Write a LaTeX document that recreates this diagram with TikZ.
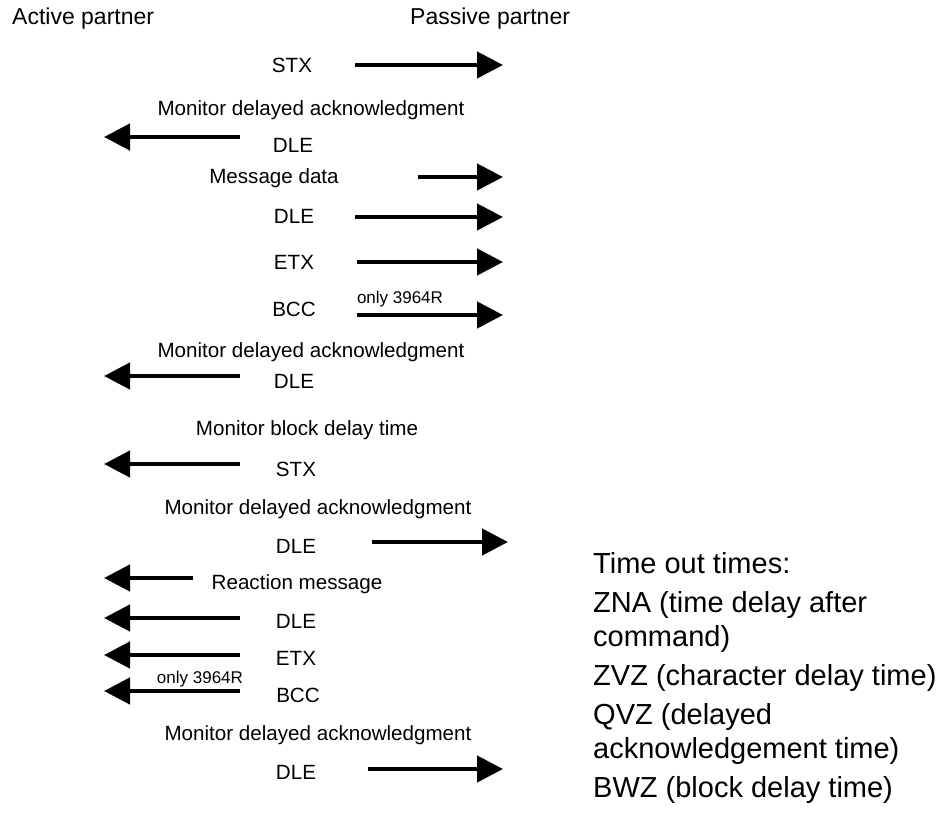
\documentclass[tikz,border=0pt]{standalone}
\usepackage{fontspec}
\setmainfont{Liberation Sans}
\usetikzlibrary{arrows.meta}
\begin{document}
\begin{tikzpicture}[x=1pt,y=-1pt,
  hdr/.style={font=\fontsize{23}{27}\selectfont, inner sep=0pt, text height=16.5pt, text depth=0pt, anchor=west},
  lbl/.style={font=\fontsize{20.6}{24}\selectfont, inner sep=0pt, text height=14.7pt, text depth=0pt},
  small/.style={font=\fontsize{17}{20}\selectfont, inner sep=0pt, text height=12.2pt, text depth=0pt},
  note/.style={font=\fontsize{29}{34}\selectfont, inner sep=0pt, text height=20.8pt, text depth=0pt, anchor=west},
  msg/.style={line width=4.6pt, -{Triangle[length=26pt,width=26pt]}}
]
\useasboundingbox (0,0) rectangle (950,813);
% headers
\node[hdr] (active) at (12,16) {Active partner};
\node[hdr] (passive) at (410,16) {Passive partner};
% 1 STX ->
\node[lbl] (stx1) at (292,65) {STX};
\coordinate (a1s) at (355,65); \coordinate (a1e) at (503,65);
\draw[msg] (a1s) -- (a1e);
% monitor + DLE <-
\node[lbl] (mon1) at (311,108) {Monitor delayed acknowledgment};
\node[lbl] (dle1) at (293,145) {DLE};
\coordinate (a2s) at (240,137); \coordinate (a2e) at (104,137);
\draw[msg] (a2s) -- (a2e);
% message data
\node[lbl] (msgd) at (274,176) {Message data};
\coordinate (a3s) at (418,177); \coordinate (a3e) at (503,177);
\draw[msg] (a3s) -- (a3e);
\node[lbl] (dle2) at (294,216) {DLE};
\coordinate (a4s) at (355,217); \coordinate (a4e) at (503,217);
\draw[msg] (a4s) -- (a4e);
\node[lbl] (etx1) at (294,262) {ETX};
\coordinate (a5s) at (357,262); \coordinate (a5e) at (503,262);
\draw[msg] (a5s) -- (a5e);
\node[lbl] (bcc1) at (294,309) {BCC};
\node[small] (only1) at (400,297) {only 3964R};
\coordinate (a6s) at (357,315); \coordinate (a6e) at (503,315);
\draw[msg] (a6s) -- (a6e);
% monitor 2
\node[lbl] (mon2) at (311,350) {Monitor delayed acknowledgment};
\node[lbl] (dle3) at (294,381) {DLE};
\coordinate (a7s) at (240,376); \coordinate (a7e) at (104,376);
\draw[msg] (a7s) -- (a7e);
% block delay
\node[lbl] (mbd) at (307,428) {Monitor block delay time};
\node[lbl] (stx2) at (296,469) {STX};
\coordinate (a8s) at (240,464); \coordinate (a8e) at (104,464);
\draw[msg] (a8s) -- (a8e);
% monitor 3
\node[lbl] (mon3) at (318,507) {Monitor delayed acknowledgment};
\node[lbl] (dle4) at (296,546) {DLE};
\coordinate (a9s) at (372,542); \coordinate (a9e) at (508,542);
\draw[msg] (a9s) -- (a9e);
% reaction
\node[lbl] (react) at (297,582) {Reaction message};
\coordinate (a10s) at (193,578); \coordinate (a10e) at (104,578);
\draw[msg] (a10s) -- (a10e);
\node[lbl] (dle5) at (296,621) {DLE};
\coordinate (a11s) at (240,618); \coordinate (a11e) at (104,618);
\draw[msg] (a11s) -- (a11e);
\node[lbl] (etx2) at (296,658) {ETX};
\coordinate (a12s) at (240,655); \coordinate (a12e) at (104,655);
\draw[msg] (a12s) -- (a12e);
\node[small] (only2) at (200,677) {only 3964R};
\node[lbl] (bcc2) at (298,695) {BCC};
\coordinate (a13s) at (240,691); \coordinate (a13e) at (104,691);
\draw[msg] (a13s) -- (a13e);
% monitor 4
\node[lbl] (mon4) at (318,733) {Monitor delayed acknowledgment};
\node[lbl] (dle6) at (296,772) {DLE};
\coordinate (a14s) at (368,769); \coordinate (a14e) at (503,769);
\draw[msg] (a14s) -- (a14e);
% time out notes
\node[note] (t1) at (593,563) {Time out times:};
\node[note] (t2) at (593,602) {ZNA (time delay after};
\node[note] (t3) at (593,636) {command)};
\node[note] (t4) at (593,675) {ZVZ (character delay time)};
\node[note] (t5) at (593,714) {QVZ (delayed};
\node[note] (t6) at (593,748) {acknowledgement time)};
\node[note] (t7) at (593,787) {BWZ (block delay time)};
\end{tikzpicture}
\end{document}
